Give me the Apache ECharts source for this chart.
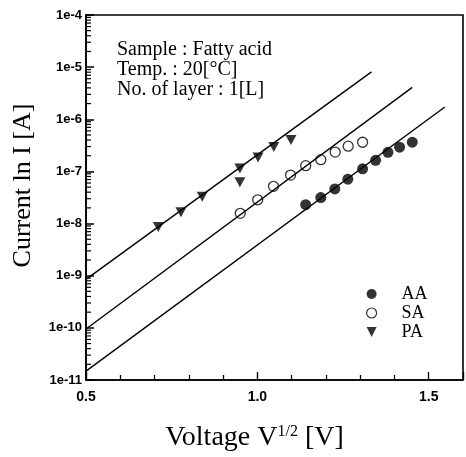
<!DOCTYPE html>
<html>
<head>
<meta charset="utf-8">
<script src="https://cdn.jsdelivr.net/npm/echarts@6/dist/echarts.min.js"></script>
<style>
  html, body { margin: 0; padding: 0; background: #fff; }
  #chart { width: 466px; height: 457px; }
</style>
</head>
<body>
<div id="chart"></div>
<script>
// Measured current vs. square root of voltage, three fatty acids
const aaX = [1.141, 1.185, 1.226, 1.264, 1.307, 1.345, 1.381, 1.415, 1.452];
const aaY = [2.3e-8, 3.16e-8, 4.62e-8, 7.1e-8, 1.12e-7, 1.63e-7, 2.32e-7, 2.92e-7, 3.63e-7];
const saX = [0.950, 1.001, 1.047, 1.097, 1.141, 1.185, 1.227, 1.265, 1.307];
const saY = [1.57e-8, 2.86e-8, 5.18e-8, 8.5e-8, 1.29e-7, 1.68e-7, 2.35e-7, 3.05e-7, 3.63e-7];
const paX = [0.711, 0.777, 0.839, 0.949, 0.949, 1.002, 1.048, 1.098];
const paY = [8.6e-9, 1.64e-8, 3.26e-8, 6.2e-8, 1.14e-7, 1.85e-7, 2.94e-7, 4.0e-7];

// Fitted straight lines (end points)
const fitAA = [[0.5, 1.48e-11], [1.547, 1.72e-6]];
const fitSA = [[0.5, 9.5e-11], [1.452, 4.1e-6]];
const fitPA = [[0.5, 8.5e-10], [1.333, 8.1e-6]];

// Axis ticks
const xMajorTicks = [0.5, 1.0, 1.5];
const yDecades = [1e-11, 1e-10, 1e-9, 1e-8, 1e-7, 1e-6, 1e-5, 1e-4];

const zip = (xs, ys) => xs.map((x, i) => [x, ys[i]]);

// minor log ticks 2..9 within each decade
const yMinorTicks = [];
for (let k = 0; k < yDecades.length - 1; k++) {
  for (let m = 2; m <= 9; m++) yMinorTicks.push([0.5, m * yDecades[k]]);
}

const serif = '"Liberation Serif", "DejaVu Serif", serif';
const sans = '"Liberation Sans", Arial, sans-serif';

const chart = echarts.init(document.getElementById('chart'), null, { renderer: 'canvas' });

const lineStyle = { color: '#000', width: 1.4 };

chart.setOption({
  animation: false,
  backgroundColor: '#fff',
  grid: {
    left: 86, right: 3, top: 15, bottom: 72,
    show: true, borderColor: '#000', borderWidth: 1.6
  },
  xAxis: {
    type: 'value',
    min: 0.5, max: 1.6, interval: 0.5,
    axisLine: { show: true, lineStyle: { color: '#000', width: 1.6 } },
    axisTick: { show: true, inside: true, length: 8, lineStyle: { color: '#000', width: 1.4 } },
    minorTick: { show: true, splitNumber: 5, length: 5, lineStyle: { color: '#000', width: 1.3 } },
    splitLine: { show: false },
    axisLabel: {
      showMaxLabel: false,
      margin: 10,
      color: '#000', fontFamily: sans, fontWeight: 'bold', fontSize: 14,
      formatter: v => xMajorTicks.some(t => Math.abs(t - v) < 1e-9) ? v.toFixed(1) : ''
    },
    name: 'Voltage V{sup|1/2} [V]',
    nameLocation: 'middle',
    nameGap: 44,
    nameTextStyle: {
      color: '#000', fontFamily: serif, fontSize: 28, padding: [0, 40, 0, 0],
      rich: { sup: { fontFamily: serif, fontSize: 16, verticalAlign: 'top', padding: [0, 0, 12, 0] } }
    }
  },
  yAxis: {
    type: 'log', logBase: 10,
    min: 1e-11, max: 1e-4,
    axisLine: { show: true, lineStyle: { color: '#000', width: 1.6 } },
    axisTick: { show: true, inside: true, length: 8, lineStyle: { color: '#000', width: 1.5 } },
    splitLine: { show: false },
    axisLabel: {
      margin: 4,
      color: '#000', fontFamily: sans, fontWeight: 'bold', fontSize: 13,
      formatter: v => '1e' + Math.round(Math.log10(v))
    },
    name: 'Current ln I [A]',
    nameLocation: 'middle',
    nameRotate: 90,
    nameGap: 50,
    nameTextStyle: { color: '#000', fontFamily: serif, fontSize: 26, padding: [0, 0, 0, 24] }
  },
  legend: {
    orient: 'vertical',
    left: 361, top: 280,
    itemWidth: 12, itemHeight: 10, itemGap: 1,
    textStyle: { color: '#000', fontFamily: serif, fontSize: 18, lineHeight: 18, padding: [0, 0, 0, 19] },
    data: [
      { name: 'AA', icon: 'circle' },
      { name: 'SA', icon: 'circle', itemStyle: { color: '#fff', borderColor: '#000', borderWidth: 1.2 } },
      { name: 'PA', icon: 'path://M0,0 L10,0 L5,10 Z' }
    ]
  },
  graphic: [
    {
      type: 'group', left: 117, top: 40,
      children: [
        { type: 'text', x: 0, y: 0, style: { text: 'Sample : Fatty acid', font: '20px ' + serif, fill: '#000' } },
        { type: 'text', x: 0, y: 20, style: { text: 'Temp. : 20[°C]', font: '20px ' + serif, fill: '#000' } },
        { type: 'text', x: 0, y: 40, style: { text: 'No. of layer : 1[L]', font: '20px ' + serif, fill: '#000' } }
      ]
    }
  ],
  series: [
    { name: 'fitAA', type: 'line', data: fitAA, symbol: 'none', lineStyle, silent: true },
    { name: 'fitSA', type: 'line', data: fitSA, symbol: 'none', lineStyle, silent: true },
    { name: 'fitPA', type: 'line', data: fitPA, symbol: 'none', lineStyle, silent: true },
    {
      name: 'AA', type: 'scatter', data: zip(aaX, aaY),
      symbol: 'circle', symbolSize: 11,
      itemStyle: { color: '#000' }
    },
    {
      name: 'SA', type: 'scatter', data: zip(saX, saY),
      symbol: 'circle', symbolSize: 10,
      itemStyle: { color: '#fff', borderColor: '#000', borderWidth: 1.3 }
    },
    {
      name: 'PA', type: 'scatter', data: zip(paX, paY),
      symbol: 'triangle', symbolSize: [11, 10], symbolRotate: 180,
      itemStyle: { color: '#000' }
    },
    {
      // short inward ticks at 2..9 of each decade on the left axis
      name: 'yMinor', type: 'custom', silent: true, data: yMinorTicks,
      renderItem: (params, api) => {
        const p = api.coord([api.value(0), api.value(1)]);
        return {
          type: 'line',
          shape: { x1: p[0], y1: p[1], x2: p[0] + 5, y2: p[1] },
          style: { stroke: '#000', lineWidth: 1.2 }
        };
      }
    }
  ]
});
</script>
</body>
</html>
